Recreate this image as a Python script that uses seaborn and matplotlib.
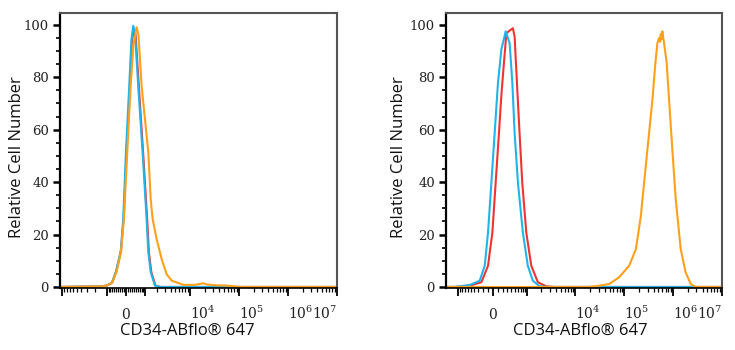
import numpy as np
import pandas as pd
import matplotlib
matplotlib.use("Agg")
import matplotlib.pyplot as plt
import seaborn as sns

# ---- data: fluorescence intensity (x) vs relative cell number (y) ----
# left panel
left_blue_x = [-11000, -1550, -1040, -710, -490, -250, -127, 0, 155, 261, 350, 436,
               610, 866, 1130, 1256, 1440, 1820, 2376, 1e7]
left_blue_y = [0, 0.2, 0.5, 1.5, 5.7, 13.3, 25.9, 51.3, 76.5, 94.3, 99.6, 97.3,
               76.5, 51.3, 25.9, 13.3, 5.7, 0.5, 0, 0]

left_red_x = [-11000, -1550, -1040, -700, -470, -230, -100, 30, 190, 290, 380, 470,
              650, 910, 1180, 1300, 1500, 1880, 2500, 1e7]
left_red_y = [0, 0.2, 0.5, 1.6, 6.0, 14.0, 27.0, 52.0, 77.0, 94.0, 98.5, 96.0,
              76.0, 50.0, 25.0, 13.0, 5.5, 0.5, 0, 0]

left_orange_x = [-11000, -1550, -1040, -710, -452, -237, -94, 61, 223, 360, 523, 622,
                 806, 1256, 1440, 1610, 1990, 2580, 3300, 4220, 5790, 7330, 12700,
                 18800, 22340, 32700, 56700, 79700, 105000, 1e7]
left_orange_y = [0, 0.2, 0.5, 1.5, 5.7, 13.3, 25.9, 51.3, 76.5, 92.4, 99.1, 96.2,
                 76.5, 51.3, 33.5, 25.9, 18.3, 10.6, 4.9, 2.4, 1.5, 0.8, 0.8,
                 1.4, 0.95, 0.65, 0.5, 0.27, 0, 0]

# right panel
right_blue_x = [-1810, -1175, -528, -264, -156, -90, -25, 38, 102, 170, 264, 360,
                432, 498, 605, 792, 1023, 1315, 1823, 2660, 1e7]
right_blue_y = [0, 0, 0.76, 2.4, 8.1, 20.8, 39.8, 58.8, 77.8, 90.5, 97.5, 93.0,
                77.8, 58.8, 39.8, 20.8, 8.1, 2.4, 0.27, 0, 0]

right_red_x = [-1810, -1175, -528, -226, -90, -6, 57, 122, 170, 219, 280, 360, 447,
               498, 572, 662, 767, 946, 1218, 1681, 2509, 3715, 1e7]
right_red_y = [0, 0, 0.5, 1.8, 8.1, 20.8, 39.8, 58.8, 73.0, 84.1, 96.8, 97.8, 98.7,
               95.5, 77.8, 58.8, 39.8, 20.8, 8.1, 1.8, 0.27, 0, 0]

right_orange_x = [-1810, 18000, 26400, 49200, 78700, 126000, 173000, 218000, 255000,
                  298000, 349000, 377000, 427000, 476000, 516000, 540000, 559000,
                  580000, 602000, 652000, 739000, 825000, 963000, 1.13e6, 1.43e6,
                  1.80e6, 2.29e6, 2.88e6, 1e7]
right_orange_y = [0, 0, 0.27, 1.14, 3.7, 8.1, 14.4, 27.0, 39.8, 52.5, 65.2, 71.4,
                  84.1, 93.0, 95.0, 93.5, 96.5, 94.5, 97.5, 93.0, 85.4, 71.5, 52.5,
                  33.5, 14.4, 5.6, 1.14, 0, 0]

BLUE = "#22b4e8"
RED = "#f03434"
ORANGE = "#ffa01a"

sns.set_theme(style="white")
plt.rcParams["font.family"] = ["Open Sans", "DejaVu Sans"]
plt.rcParams["mathtext.fontset"] = "dejavuserif"


def biex_axis(ax, c, xmin):
    ax.set_xscale("function", functions=(lambda x: np.arcsinh(np.asarray(x) / c),
                                         lambda u: c * np.sinh(np.asarray(u))))
    ax.set_xlim(xmin, 1e7)
    ax.set_ylim(-0.4, 104.5)

    major = [v for v in [-1e4, -1e3, 0, 1e3, 1e4, 1e5, 1e6, 1e7] if v >= xmin]
    labels = []
    for v in major:
        if v == 0:
            labels.append(r"$0$")
        elif v >= 1e4:
            labels.append(r"$10^{%d}$" % round(np.log10(v)))
        else:
            labels.append("")
    minor = []
    for n in range(2, 7):
        for k in range(1, 10):
            for s in (1, -1):
                v = s * k * 10 ** n
                if xmin <= v <= 1e7 and v not in major:
                    minor.append(v)
    ax.set_xticks(major)
    ax.set_xticklabels(labels)
    ax.set_xticks(minor, minor=True)
    for t, v in zip(ax.get_xticklabels(), major):
        t.set_fontsize(10)
        t.set_va("baseline")
        if v == 1e7:
            t.set_ha("right")
        elif v >= 1e4:
            t.set_ha("left")

    ax.set_yticks([0, 20, 40, 60, 80, 100])
    ax.set_yticks(np.arange(0, 105, 5), minor=True)
    for t in ax.get_yticklabels():
        t.set_fontfamily("DejaVu Serif")
        t.set_fontsize(9.5)

    ax.tick_params(axis="x", which="major", direction="out", length=6, width=1.3,
                   color="black", pad=16, labelcolor="#222222", bottom=True)
    ax.tick_params(axis="x", which="minor", direction="out", length=3, width=0.9,
                   color="black", bottom=True)
    ax.tick_params(axis="y", which="major", direction="out", length=5, width=1.8,
                   color="black", pad=3, labelcolor="#222222", left=True)
    ax.tick_params(axis="y", which="minor", direction="out", length=3, width=1.2,
                   color="black", left=True)

    for side in ("top", "right"):
        ax.spines[side].set_color("#555555")
        ax.spines[side].set_linewidth(1.5)
    ax.spines["left"].set_color("black")
    ax.spines["left"].set_linewidth(1.6)
    ax.spines["bottom"].set_color("black")
    ax.spines["bottom"].set_linewidth(1.2)


def draw(ax, x, y, color):
    df = pd.DataFrame({"x": x, "y": y})
    sns.lineplot(data=df, x="x", y="y", ax=ax, color=color, lw=1.5,
                 sort=False, estimator=None, clip_on=False)


fig = plt.figure(figsize=(7.35, 3.5), dpi=100)
ax1 = fig.add_axes([60 / 735, 62 / 350, 277 / 735, 275 / 350])
ax2 = fig.add_axes([446 / 735, 62 / 350, 276 / 735, 275 / 350])

biex_axis(ax1, 1000, -11000)
biex_axis(ax2, 406, -1810)

draw(ax1, left_red_x, left_red_y, RED)
draw(ax1, left_blue_x, left_blue_y, BLUE)
draw(ax1, left_orange_x, left_orange_y, ORANGE)

draw(ax2, right_red_x, right_red_y, RED)
draw(ax2, right_blue_x, right_blue_y, BLUE)
draw(ax2, right_orange_x, right_orange_y, ORANGE)

for ax, lx, ly, xx in [(ax1, -0.126, 0.477, 0.458), (ax2, -0.141, 0.477, 0.486)]:
    ax.set_xlim(ax.get_xlim())
    ax.set_ylabel("Relative Cell Number", fontsize=12, color="#111111")
    ax.set_xlabel("CD34-ABflo\u00ae 647", fontsize=12, color="#111111")
    ax.yaxis.set_label_coords(lx, ly)
    ax.xaxis.set_label_coords(xx, -0.128)

fig.savefig("out.png", dpi=100)
